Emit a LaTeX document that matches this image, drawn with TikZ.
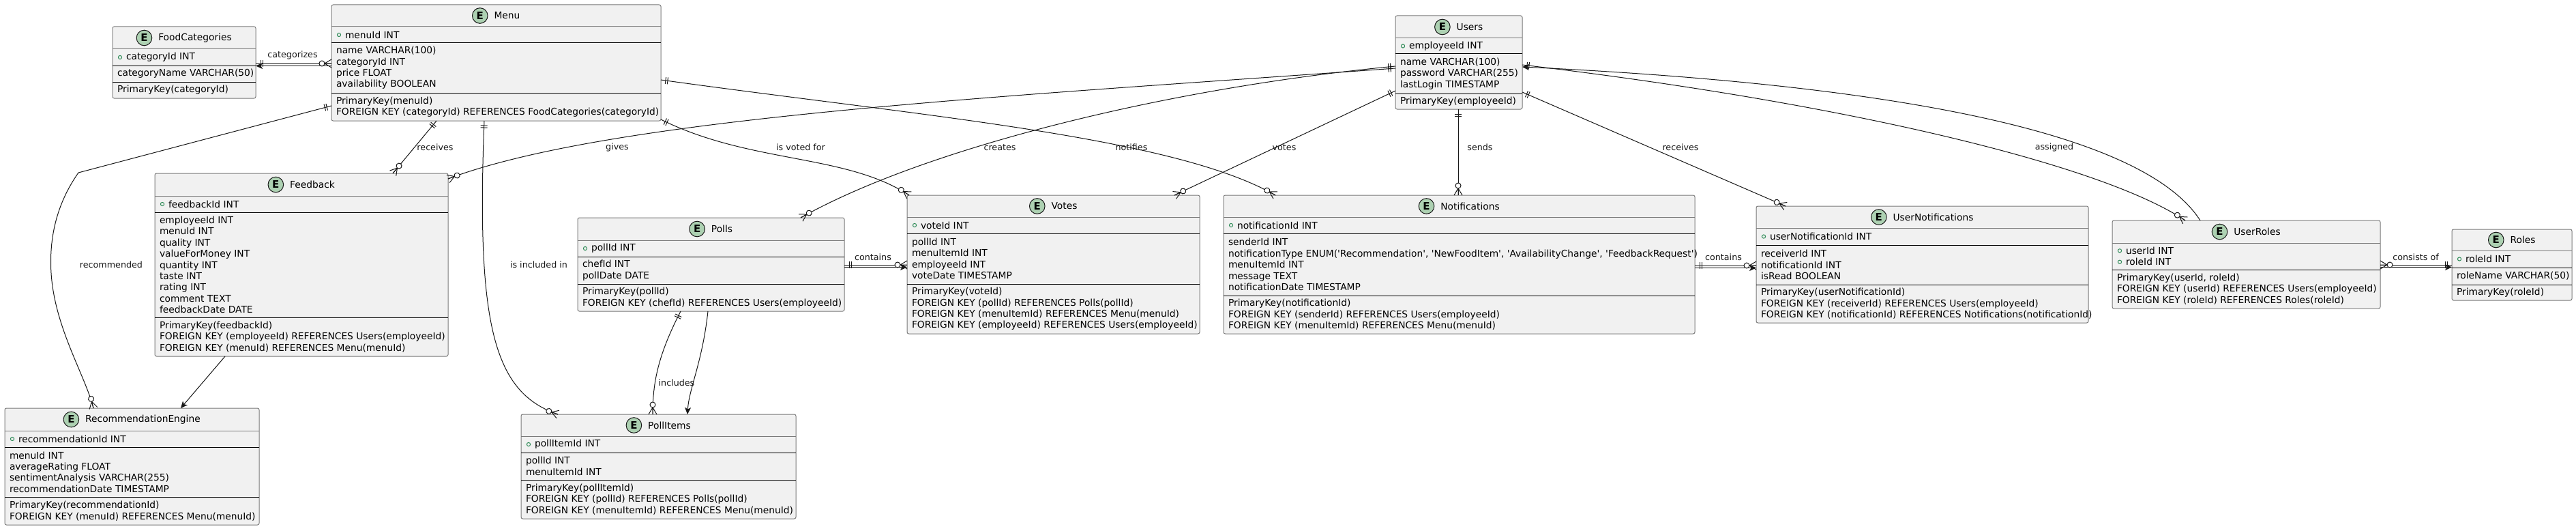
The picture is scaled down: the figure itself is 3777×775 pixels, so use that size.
\documentclass[tikz,border=0pt]{standalone}
\usepackage{fontspec}
\setmainfont{DejaVu Sans}
\usetikzlibrary{arrows.meta,decorations.markings,positioning,calc}
\definecolor{boxfill}{HTML}{F1F1F1}
\definecolor{boxline}{HTML}{7A7A7A}
\definecolor{lc}{HTML}{181818}
\definecolor{ecfill}{HTML}{ADD1B2}
\definecolor{pkgreen}{HTML}{2E8B57}
\tikzset{
 ebox/.style={draw=boxline, fill=boxfill, line width=1bp, rounded corners=2.5bp, inner sep=0, outer sep=0},
 hsep/.style={draw=boxline, line width=1bp},
 sep/.style={draw=black, line width=1bp},
 ttl/.style={font=\fontsize{13.8bp}{16.4bp}\selectfont, inner sep=0, outer sep=0},
 ecirc/.style={circle, draw=lc, line width=1bp, fill=ecfill, minimum size=22.6bp, inner sep=0, outer sep=0, font=\fontsize{15bp}{15bp}\selectfont\bfseries},
 txt/.style={font=\fontsize{13.8bp}{16.4bp}\selectfont, inner sep=0, outer sep=0, align=left, anchor=west},
 lbl/.style={font=\fontsize{12.7bp}{14bp}\selectfont, inner sep=0, text=lc},
 pkc/.style={draw=pkgreen, line width=1bp},
 rel/.style={draw=lc, line width=1bp},
 mk/.style={draw=lc, line width=1bp},
 arr/.style={draw=lc, line width=1bp, -{Stealth[length=10bp,width=9bp,inset=2.5bp]}},
 oneS/.style={postaction={decorate, decoration={markings,
    mark=at position 7bp with {\draw[mk] (0,-5) -- (0,5);},
    mark=at position 10bp with {\draw[mk] (0,-5) -- (0,5);}}}},
 oneE/.style={postaction={decorate, decoration={markings,
    mark=at position -7bp with {\draw[mk] (0,-5) -- (0,5);},
    mark=at position -10bp with {\draw[mk] (0,-5) -- (0,5);}}}},
 manyE/.style={postaction={decorate, decoration={markings,
    mark=at position -0.01pt with {\draw[mk] (-10,0) -- (0,6) (-10,0) -- (0,-6) (-10,0) -- (0,0);
      \draw[mk, fill=white] (-14,0) circle (4bp);}}}},
 manyS/.style={postaction={decorate, decoration={markings,
    mark=at position 0.01pt with {\draw[mk] (10,0) -- (0,6) (10,0) -- (0,-6) (10,0) -- (0,0);
      \draw[mk, fill=white] (14,0) circle (4bp);}}}},
}
\newcommand\ent[9]{%
 \pgfmathsetmacro\ew{#4-#2}\pgfmathsetmacro\eh{#5-#3}%
 \node[ebox, minimum width=\ew bp, minimum height=\eh bp, anchor=north west] (#1) at (#2,#3) {};
 \draw[hsep] (#2,#7) -- (#4,#7);
 \draw[sep] (#2,#8) -- (#4,#8);
 \draw[sep] (#2,#9) -- (#4,#9);
 \pgfmathsetmacro\cx{(#2+#4)/2+16}\pgfmathsetmacro\cy{(#3+#7)/2}%
 \node[ttl] (#1-title) at (\cx,\cy) {#6};
 \node[ecirc, left=9.5bp of #1-title] (#1-e) {E};
 \coordinate (#1-i) at (#2, {(#7+#8)/2});
 \coordinate (#1-a) at (#2, {(#8+#9)/2});
 \coordinate (#1-m) at (#2, {(#9+#5)/2});
}
\newcommand\pkrow[3]{%
 \node[txt] (#1) at ([xshift=20bp]#2) {#3};
 \draw[pkc] ([xshift=11bp]#2) circle (2.6bp);
}
\newcommand\q{\textquotesingle}
\begin{document}
\begin{tikzpicture}[x=1bp,y=-1bp]
\fill[white] (0,0) rectangle (3777,775);
\useasboundingbox (0,0) rectangle (3777,775);

% ---------- entities ----------
\ent{fc}{165}{39}{375}{144}{FoodCategories}{72}{96}{120}
\pkrow{fc-it}{fc-i}{categoryId INT}
\node[txt] (fc-at) at ([xshift=7bp]fc-a) {categoryName VARCHAR(50)};
\node[txt] (fc-mt) at ([xshift=7bp]fc-m) {PrimaryKey(categoryId)};

\ent{menu}{486}{7}{969}{177}{Menu}{39}{63}{136}
\pkrow{menu-it}{menu-i}{menuId INT}
\node[txt] (menu-at) at ([xshift=7bp]menu-a) {name VARCHAR(100)\\categoryId INT\\price FLOAT\\availability BOOLEAN};
\node[txt] (menu-mt) at ([xshift=7bp]menu-m) {PrimaryKey(menuId)\\FOREIGN KEY (categoryId) REFERENCES FoodCategories(categoryId)};

\ent{users}{2046}{23}{2232}{160}{Users}{56}{79}{137}
\pkrow{users-it}{users-i}{employeeId INT}
\node[txt] (users-at) at ([xshift=7bp]users-a) {name VARCHAR(100)\\password VARCHAR(255)\\lastLogin TIMESTAMP};
\node[txt] (users-mt) at ([xshift=7bp]users-m) {PrimaryKey(employeeId)};

\ent{fb}{227}{254}{657}{522}{Feedback}{287}{311}{465}
\pkrow{fb-it}{fb-i}{feedbackId INT}
\node[txt] (fb-at) at ([xshift=7bp]fb-a) {employeeId INT\\menuId INT\\quality INT\\valueForMoney INT\\quantity INT\\taste INT\\rating INT\\comment TEXT\\feedbackDate DATE};
\node[txt] (fb-mt) at ([xshift=7bp]fb-m) {PrimaryKey(feedbackId)\\FOREIGN KEY (employeeId) REFERENCES Users(employeeId)\\FOREIGN KEY (menuId) REFERENCES Menu(menuId)};

\ent{polls}{847}{319}{1238}{456}{Polls}{352}{376}{416}
\pkrow{polls-it}{polls-i}{pollId INT}
\node[txt] (polls-at) at ([xshift=7bp]polls-a) {chefId INT\\pollDate DATE};
\node[txt] (polls-mt) at ([xshift=7bp]polls-m) {PrimaryKey(pollId)\\FOREIGN KEY (chefId) REFERENCES Users(employeeId)};

\ent{votes}{1330}{286}{1759}{489}{Votes}{318}{342}{416}
\pkrow{votes-it}{votes-i}{voteId INT}
\node[txt] (votes-at) at ([xshift=7bp]votes-a) {pollId INT\\menuItemId INT\\employeeId INT\\voteDate TIMESTAMP};
\node[txt] (votes-mt) at ([xshift=7bp]votes-m) {PrimaryKey(voteId)\\FOREIGN KEY (pollId) REFERENCES Polls(pollId)\\FOREIGN KEY (menuItemId) REFERENCES Menu(menuId)\\FOREIGN KEY (employeeId) REFERENCES Users(employeeId)};

\ent{notif}{1794}{286}{2485}{489}{Notifications}{318}{342}{433}
\pkrow{notif-it}{notif-i}{notificationId INT}
\node[txt] (notif-at) at ([xshift=7bp]notif-a) {senderId INT\\notificationType ENUM(\q Recommendation\q, \q NewFoodItem\q, \q AvailabilityChange\q, \q FeedbackRequest\q)\\menuItemId INT\\message TEXT\\notificationDate TIMESTAMP};
\node[txt] (notif-mt) at ([xshift=7bp]notif-m) {PrimaryKey(notificationId)\\FOREIGN KEY (senderId) REFERENCES Users(employeeId)\\FOREIGN KEY (menuItemId) REFERENCES Menu(menuId)};

\ent{un}{2575}{302}{3062}{473}{UserNotifications}{334}{359}{417}
\pkrow{un-it}{un-i}{userNotificationId INT}
\node[txt] (un-at) at ([xshift=7bp]un-a) {receiverId INT\\notificationId INT\\isRead BOOLEAN};
\node[txt] (un-mt) at ([xshift=7bp]un-m) {PrimaryKey(userNotificationId)\\FOREIGN KEY (receiverId) REFERENCES Users(employeeId)\\FOREIGN KEY (notificationId) REFERENCES Notifications(notificationId)};

\ent{ur}{3097}{323}{3490}{452}{UserRoles}{356}{395}{395}
\node[txt] (ur-it) at ([xshift=20bp]ur-i) {userId INT\\roleId INT};
\draw[pkc] ([xshift=11bp,yshift=8.2bp]ur-i) circle (2.6bp);
\draw[pkc] ([xshift=11bp,yshift=-8.2bp]ur-i) circle (2.6bp);
\node[txt] (ur-mt) at ([xshift=7bp]ur-m) {PrimaryKey(userId, roleId)\\FOREIGN KEY (userId) REFERENCES Users(employeeId)\\FOREIGN KEY (roleId) REFERENCES Roles(roleId)};

\ent{roles}{3595}{336}{3771}{440}{Roles}{367}{392}{417}
\pkrow{roles-it}{roles-i}{roleId INT}
\node[txt] (roles-at) at ([xshift=7bp]roles-a) {roleName VARCHAR(50)};
\node[txt] (roles-mt) at ([xshift=7bp]roles-m) {PrimaryKey(roleId)};

\ent{rec}{7}{598}{380}{769}{RecommendationEngine}{631}{655}{728}
\pkrow{rec-it}{rec-i}{recommendationId INT}
\node[txt] (rec-at) at ([xshift=7bp]rec-a) {menuId INT\\averageRating FLOAT\\sentimentAnalysis VARCHAR(255)\\recommendationDate TIMESTAMP};
\node[txt] (rec-mt) at ([xshift=7bp]rec-m) {PrimaryKey(recommendationId)\\FOREIGN KEY (menuId) REFERENCES Menu(menuId)};

\ent{pi}{764}{607}{1167}{760}{PollItems}{639}{663}{703}
\pkrow{pi-it}{pi-i}{pollItemId INT}
\node[txt] (pi-at) at ([xshift=7bp]pi-a) {pollId INT\\menuItemId INT};
\node[txt] (pi-mt) at ([xshift=7bp]pi-m) {PrimaryKey(pollItemId)\\FOREIGN KEY (pollId) REFERENCES Polls(pollId)\\FOREIGN KEY (menuItemId) REFERENCES Menu(menuId)};

% ---------- connectors ----------
\coordinate (recbend) at (115,253);
\draw[rel, oneS, manyE] (fc.east |- 0,93) -- (menu.west |- 0,93);
\draw[arr] (menu.west |- 0,96.5) -- (fc.east |- 0,96.5);

\draw[rel, oneS, manyE] (menu.west |- 0,155) -- (recbend) .. controls (82,300) and (72,350) .. (75,400)
   .. controls (80,480) and (125,550) .. (137,0 |- rec.north);

\draw[rel, oneS, manyE] (640,0 |- menu.south) -- (576,0 |- fb.north);

\draw[rel, oneS, manyE] (710,0 |- menu.south) .. controls (698,480) and (725,575) .. (818,0 |- pi.north);

\draw[rel, oneS, manyE] (menu.east |- 0,175) .. controls (1100,240) and (1240,225) .. (1333,0 |- votes.north);

\draw[rel, oneS, manyE] (menu.east |- 0,117) .. controls (1350,170) and (1720,200) .. (1870,0 |- notif.north);

\draw[rel, oneS, manyE] (users.west |- 0,100) .. controls (1500,140) and (900,170) .. (fb.east |- 0,262);

\draw[rel, oneS, manyE] (users.west |- 0,97) .. controls (1700,130) and (1350,220) .. (1174,0 |- polls.north);

\draw[rel, oneS, manyE] (users.west |- 0,133) -- (1722,0 |- votes.north);

\draw[rel, oneS, manyE] (2138,0 |- users.south) -- (2138,0 |- notif.north);

\draw[rel, oneS, manyE] (users.east |- 0,135) -- (2618,0 |- un.north);

\draw[rel, oneS, manyE] (users.east |- 0,95) .. controls (2700,150) and (3080,240) .. (3204,0 |- ur.north);
\draw[arr] (3226,0 |- ur.north) .. controls (3160,220) and (2900,130) .. (users.east |- 0,98);

\draw[rel, oneS, manyE] (polls.east |- 0,388) -- (votes.west |- 0,388);
\draw[arr] (polls.east |- 0,391.5) -- (votes.west |- 0,391.5);

\draw[rel, oneS, manyE] (998,0 |- polls.south) .. controls (965,520) and (957,560) .. (957,0 |- pi.north);
\draw[arr] (1038,0 |- polls.south) .. controls (1030,530) and (1010,570) .. (1008,0 |- pi.north);

\draw[arr] (330,0 |- fb.south) -- (265,0 |- rec.north);

\draw[rel, oneS, manyE] (notif.east |- 0,389) -- (un.west |- 0,389);
\draw[arr] (notif.east |- 0,392.5) -- (un.west |- 0,392.5);

\draw[rel, manyS, oneE] (ur.east |- 0,388) -- (roles.west |- 0,388);
\draw[arr] (ur.east |- 0,391.5) -- (roles.west |- 0,391.5);

% ---------- labels ----------
\node[lbl] (l1) at (429,81) {categorizes};
\node[lbl] (l2) at (163,388) {recommended};
\node[lbl] (l3) at (638,216) {receives};
\node[lbl] (l4) at (790,388) {is included in};
\node[lbl] (l5) at (1174,216) {is voted for};
\node[lbl] (l6) at (905,216) {gives};
\node[lbl] (l7) at (1466,216) {creates};
\node[lbl] (l8) at (1659,216) {notifies};
\node[lbl] (l9) at (1883,216) {votes};
\node[lbl] (l10) at (2170,216) {sends};
\node[lbl] (l11) at (2464,216) {receives};
\node[lbl] (l12) at (3012,216) {assigned};
\node[lbl] (l13) at (1280,377) {contains};
\node[lbl] (l14) at (992,561) {includes};
\node[lbl] (l15) at (2527,377) {contains};
\node[lbl] (l16) at (3542,377) {consists of};
\end{tikzpicture}
\end{document}
